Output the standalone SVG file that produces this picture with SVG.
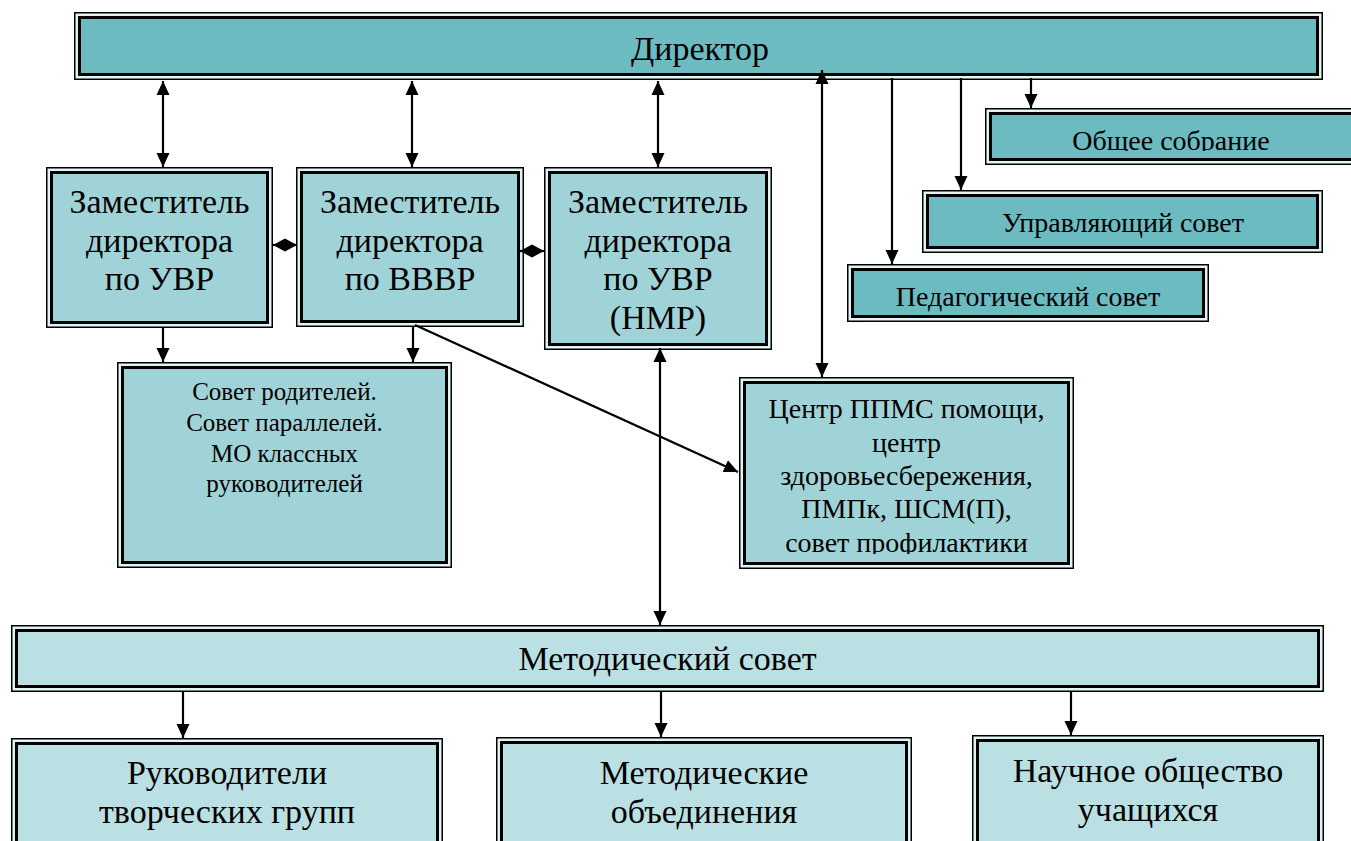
<svg xmlns="http://www.w3.org/2000/svg" width="1351" height="841" viewBox="0 0 1351 841">
<style>
.o{fill:#e2f3f4;stroke:#000;stroke-width:1.5}
.i{stroke:#000;stroke-width:3}
.dk{fill:#6cbbc0}
.md{fill:#a0d3d7}
.lt{fill:#bbe0e3}
.c line{stroke:#000;stroke-width:2.2;fill:none}
</style>
<defs>
<marker id="ah" markerUnits="userSpaceOnUse" markerWidth="14" markerHeight="14" refX="14" refY="7" orient="auto-start-reverse" viewBox="0 0 14 14"><path d="M0,0.5 L14,7 L0,13.5 z" fill="#000"/></marker>
<clipPath id="clipOb"><rect x="985" y="108" width="400" height="43"/></clipPath>
<clipPath id="clipCt"><rect x="739" y="377" width="336" height="177"/></clipPath>
</defs>
<rect width="1351" height="841" fill="#fff"/>

<g id="director">
<rect class="o" x="74.75" y="12.75" width="1247.5" height="66.5"/>
<rect class="i dk" x="79.5" y="17.5" width="1238" height="57"/>
<text font-family="Liberation Serif" font-size="34" text-anchor="middle" x="700" y="60">Директор</text>
</g>

<g id="zam-uvr">
<rect class="o" x="46.75" y="167.75" width="225.5" height="159.5"/>
<rect class="i md" x="51.5" y="172.5" width="216" height="150"/>
<text font-family="Liberation Serif" font-size="34" text-anchor="middle" x="159.5" y="213">Заместитель</text>
<text font-family="Liberation Serif" font-size="34" text-anchor="middle" x="159.5" y="252">директора</text>
<text font-family="Liberation Serif" font-size="34" text-anchor="middle" x="159.5" y="290">по УВР</text>
</g>

<g id="zam-vvvr">
<rect class="o" x="296.75" y="167.75" width="226.5" height="158.5"/>
<rect class="i md" x="301.5" y="172.5" width="217" height="149"/>
<text font-family="Liberation Serif" font-size="34" text-anchor="middle" x="410" y="213">Заместитель</text>
<text font-family="Liberation Serif" font-size="34" text-anchor="middle" x="410" y="252">директора</text>
<text font-family="Liberation Serif" font-size="34" text-anchor="middle" x="410" y="290">по ВВВР</text>
</g>

<g id="zam-nmr">
<rect class="o" x="544.75" y="167.75" width="226.5" height="181.5"/>
<rect class="i md" x="549.5" y="172.5" width="217" height="172"/>
<text font-family="Liberation Serif" font-size="34" text-anchor="middle" x="658" y="213">Заместитель</text>
<text font-family="Liberation Serif" font-size="34" text-anchor="middle" x="658" y="252">директора</text>
<text font-family="Liberation Serif" font-size="34" text-anchor="middle" x="658" y="290">по УВР</text>
<text font-family="Liberation Serif" font-size="34" text-anchor="middle" x="658" y="329">(НМР)</text>
</g>

<g id="obshee-sobranie">
<rect class="o" x="985.75" y="108.75" width="380" height="55.5"/>
<rect class="i dk" x="990.5" y="113.5" width="380" height="46"/>
<text font-family="Liberation Serif" font-size="28" text-anchor="middle" x="1171" y="150" clip-path="url(#clipOb)">Общее собрание</text>
</g>

<g id="upravl-sovet">
<rect class="o" x="922.75" y="190.75" width="399.5" height="61.5"/>
<rect class="i dk" x="927.5" y="195.5" width="390" height="52"/>
<text font-family="Liberation Serif" font-size="28" text-anchor="middle" x="1123" y="232">Управляющий совет</text>
</g>

<g id="ped-sovet">
<rect class="o" x="847.75" y="264.75" width="360.5" height="56.5"/>
<rect class="i dk" x="852.5" y="269.5" width="351" height="47"/>
<text font-family="Liberation Serif" font-size="28" text-anchor="middle" x="1028" y="306">Педагогический совет</text>
</g>

<g id="sovet-roditelei">
<rect class="o" x="117.75" y="362.75" width="333.5" height="204.5"/>
<rect class="i md" x="122.5" y="367.5" width="324" height="195"/>
<text font-family="Liberation Serif" font-size="25" text-anchor="middle" x="284.5" y="400">Совет родителей.</text>
<text font-family="Liberation Serif" font-size="25" text-anchor="middle" x="284.5" y="431">Совет параллелей.</text>
<text font-family="Liberation Serif" font-size="25" text-anchor="middle" x="284.5" y="462">МО классных</text>
<text font-family="Liberation Serif" font-size="25" text-anchor="middle" x="284.5" y="492">руководителей</text>
</g>

<g id="centr-ppms">
<rect class="o" x="739.75" y="377.75" width="333.5" height="190.5"/>
<rect class="i md" x="744.5" y="382.5" width="324" height="181"/>
<g clip-path="url(#clipCt)">
<text font-family="Liberation Serif" font-size="28" text-anchor="middle" x="906.5" y="418">Центр ППМС помощи,</text>
<text font-family="Liberation Serif" font-size="28" text-anchor="middle" x="906.5" y="452">центр</text>
<text font-family="Liberation Serif" font-size="28" text-anchor="middle" x="906.5" y="485">здоровьесбережения,</text>
<text font-family="Liberation Serif" font-size="28" text-anchor="middle" x="906.5" y="518">ПМПк, ШСМ(П),</text>
<text font-family="Liberation Serif" font-size="28" text-anchor="middle" x="906.5" y="552">совет профилактики</text>
</g>
</g>

<g id="metod-sovet">
<rect class="o" x="11.75" y="625.75" width="1311.5" height="65.5"/>
<rect class="i lt" x="16.5" y="630.5" width="1302" height="56"/>
<text font-family="Liberation Serif" font-size="34" text-anchor="middle" x="667.5" y="670">Методический совет</text>
</g>

<g id="rukovoditeli">
<rect class="o" x="11.75" y="738.75" width="430.5" height="120"/>
<rect class="i lt" x="16.5" y="743.5" width="421" height="120"/>
<text font-family="Liberation Serif" font-size="34" text-anchor="middle" x="227" y="784">Руководители</text>
<text font-family="Liberation Serif" font-size="34" text-anchor="middle" x="227" y="823">творческих групп</text>
</g>

<g id="metod-obedinenia">
<rect class="o" x="496.75" y="737.75" width="414.5" height="120"/>
<rect class="i lt" x="501.5" y="742.5" width="405" height="120"/>
<text font-family="Liberation Serif" font-size="34" text-anchor="middle" x="704" y="784">Методические</text>
<text font-family="Liberation Serif" font-size="34" text-anchor="middle" x="704" y="823">объединения</text>
</g>

<g id="nauchnoe-obshestvo">
<rect class="o" x="972.75" y="735.75" width="350.5" height="120"/>
<rect class="i lt" x="977.5" y="740.5" width="341" height="120"/>
<text font-family="Liberation Serif" font-size="34" text-anchor="middle" x="1148" y="782">Научное общество</text>
<text font-family="Liberation Serif" font-size="34" text-anchor="middle" x="1148" y="821">учащихся</text>
</g>

<g id="connectors" class="c">
<line x1="163" y1="81" x2="163" y2="167" marker-start="url(#ah)" marker-end="url(#ah)"/>
<line x1="412" y1="81" x2="412" y2="167" marker-start="url(#ah)" marker-end="url(#ah)"/>
<line x1="658" y1="81" x2="658" y2="167" marker-start="url(#ah)" marker-end="url(#ah)"/>
<line x1="822" y1="70" x2="822" y2="377" marker-start="url(#ah)" marker-end="url(#ah)"/>
<line x1="892" y1="78" x2="892" y2="264" marker-end="url(#ah)"/>
<line x1="961" y1="78" x2="961" y2="190" marker-end="url(#ah)"/>
<line x1="1031" y1="78" x2="1031" y2="108" marker-end="url(#ah)"/>
<line x1="163" y1="327" x2="163" y2="362" marker-end="url(#ah)"/>
<line x1="413" y1="326" x2="413" y2="362" marker-end="url(#ah)"/>
<line x1="415" y1="325" x2="738" y2="472" marker-end="url(#ah)"/>
<line x1="660" y1="348" x2="660" y2="625" marker-start="url(#ah)" marker-end="url(#ah)"/>
<line x1="183" y1="691" x2="183" y2="738" marker-end="url(#ah)"/>
<line x1="661" y1="691" x2="661" y2="737" marker-end="url(#ah)"/>
<line x1="1071" y1="691" x2="1071" y2="735" marker-end="url(#ah)"/>
<line x1="272" y1="245" x2="297" y2="245"/>
<polygon points="273,245 285,238.5 297,245 285,251.5" fill="#000"/>
<line x1="520" y1="251" x2="545" y2="251"/>
<polygon points="520,251 532,244.5 544,251 532,257.5" fill="#000"/>
</g>
</svg>
